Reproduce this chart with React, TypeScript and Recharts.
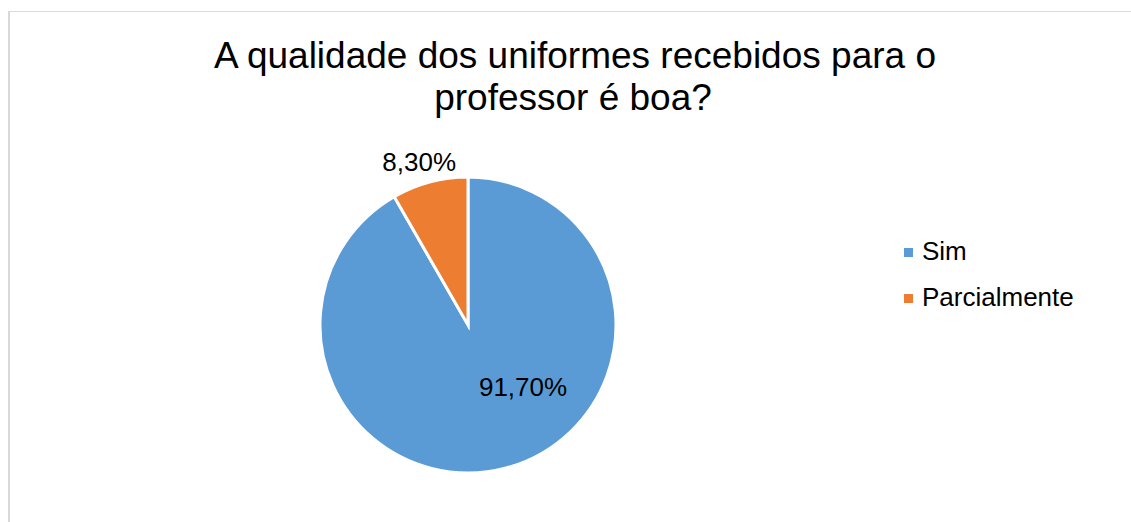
import React from "react";
import { PieChart, Pie, Cell, Legend } from "recharts";

const categories = ["Sim", "Parcialmente"];
const values = [91.7, 8.3];
const colors = ["#5B9BD5", "#ED7D31"];
const titleLines = ["A qualidade dos uniformes recebidos para o", "professor é boa?"];

const data = categories.map((name, i) => ({ name, value: values[i] }));

// label placement as fractions of the outer radius (relative to the pie centre)
const labelPos = [
  { fx: 0.372, fy: 0.48 },
  { fx: -0.33, fy: -1.04 },
];

const FONT = "'Liberation Sans', Arial, Helvetica, sans-serif";

const renderLabel = (props: any) => {
  const { cx, cy, outerRadius, index, value } = props;
  const p = labelPos[index];
  const x = cx + p.fx * outerRadius;
  const y = cy + p.fy * outerRadius;
  return (
    <text x={x} y={y} textAnchor="middle" fill="#000" fontSize={26} fontFamily={FONT}>
      {value.toFixed(2).replace(".", ",") + "%"}
    </text>
  );
};

const renderLegend = () => {
  return (
    <svg width={220} height={100} style={{ display: "block" }}>
      {categories.map((name, i) => (
        <g key={name}>
          <rect x={4} y={18 + i * 46} width={9} height={9} fill={colors[i]} />
          <text x={22} y={30 + i * 46} fontSize={26} fontFamily={FONT} fill="#000">
            {name}
          </text>
        </g>
      ))}
    </svg>
  );
};

export default function App() {
  return (
    <div style={{ position: "absolute", left: 0, top: 0, width: 1131, height: 522, background: "#fff", overflow: "hidden" }}>
      <div
        style={{
          position: "absolute",
          left: 8,
          top: 11,
          width: 1130,
          height: 520,
          borderTop: "1px solid #d9d9d9",
          borderLeft: "2px solid #d9d9d9",
          boxSizing: "border-box",
        }}
      />
      <svg width={1131} height={130} style={{ position: "absolute", left: 0, top: 0 }}>
        <text x={575} y={68} textAnchor="middle" fontSize={37} fontFamily={FONT} fill="#000">
          {titleLines[0]}
        </text>
        <text x={573} y={110} textAnchor="middle" fontSize={37} fontFamily={FONT} fill="#000">
          {titleLines[1]}
        </text>
      </svg>
      <div style={{ position: "absolute", left: 0, top: 0 }}>
        <PieChart width={1131} height={522} margin={{ top: 0, right: 0, bottom: 0, left: 0 }}>
          <Pie
            data={data}
            dataKey="value"
            nameKey="name"
            cx={468}
            cy={325}
            outerRadius={148}
            startAngle={90}
            endAngle={-270}
            stroke="#fff"
            strokeWidth={3}
            label={renderLabel}
            labelLine={false}
            isAnimationActive={false}
          >
            {data.map((d, i) => (
              <Cell key={d.name} fill={colors[i]} />
            ))}
          </Pie>
          <Legend
            content={renderLegend}
            wrapperStyle={{ position: "absolute", left: 900, top: 230, width: 220, height: 100 }}
          />
        </PieChart>
      </div>
    </div>
  );
}
